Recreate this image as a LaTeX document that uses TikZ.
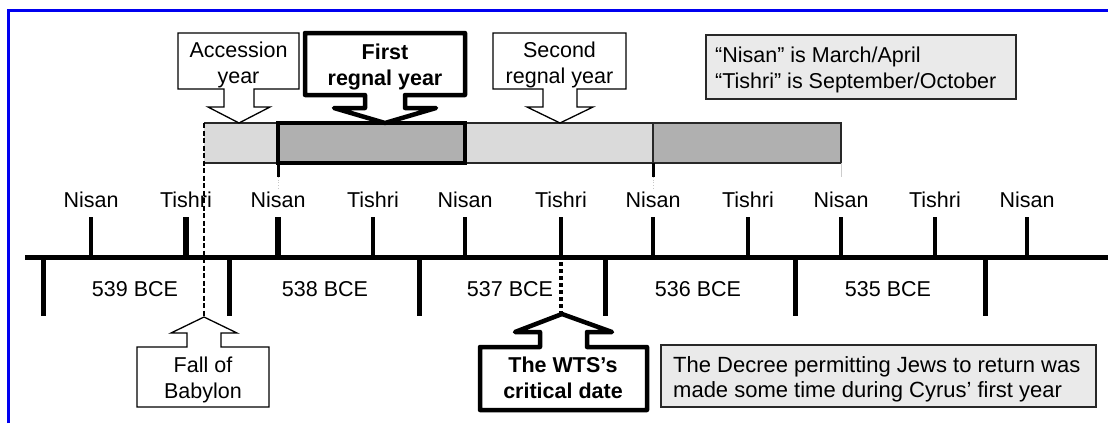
\documentclass[tikz,border=0pt]{standalone}
\usepackage{fontspec}
\setmainfont{Liberation Sans}
\definecolor{frameblue}{RGB}{0,0,240}
\definecolor{lightbar}{RGB}{218,218,218}
\definecolor{darkbar}{RGB}{176,176,176}
\definecolor{notefill}{RGB}{234,234,234}
\definecolor{edgegray}{RGB}{40,40,40}
\begin{document}
\begin{tikzpicture}[x=1pt,y=-1pt,
  txt/.style={font=\fontsize{21.5}{26}\selectfont, inner sep=0pt, align=center},
  boldtxt/.style={txt, font=\fontsize{21.5}{26}\selectfont\bfseries},
  bigtxt/.style={txt, font=\fontsize{22}{25}\selectfont},
  thincall/.style={draw=black, fill=white, line width=1.3pt, line join=miter},
  thickcall/.style={draw=black, fill=white, line width=4.5pt, line join=round},
  notebox/.style={draw=edgegray, fill=notefill, line width=1.4pt},
  uptick/.style={line width=4.5pt},
  yeartick/.style={line width=5pt},
  thinbar/.style={draw=edgegray, line width=1.3pt},
]
\useasboundingbox (0,0) rectangle (1108,423);
% frame
\draw[frameblue, line width=3pt] (8,423) -- (8,10) -- (1108,10);

% bar
\fill[lightbar] (204,123) rectangle (278,163);
\draw[thinbar] (204,123) -- (278,123) (204,163) -- (278,163);
\filldraw[fill=lightbar, thinbar] (465,123) rectangle (653,163);
\filldraw[fill=darkbar, thinbar] (653,123) rectangle (841,163);
\filldraw[fill=darkbar, draw=black, line width=4pt] (278,123) rectangle (465,163);

% short marks under the bar
\draw[line width=3pt] (278,163) -- (278,177);
\draw[line width=3pt] (653,163) -- (653,177);
\draw[gray!45, line width=0.7pt, dotted] (278,177) -- (278,190);
\draw[gray!45, line width=0.7pt, dotted] (653,177) -- (653,190);
\draw[gray!40, line width=0.8pt] (841,163) -- (841,177);

% main line
\draw[line width=5pt] (25,257) -- (1108,257);

% upper ticks and month labels
\foreach \x/\m/\w [count=\i] in {91/Nisan/4.5,186/Tishri/6,278/Nisan/6,373/Tishri/4.5,465/Nisan/4.5,561/Tishri/4.5,653/Nisan/4.5,748/Tishri/4.5,841/Nisan/4.5,935/Tishri/4.5,1027/Nisan/4.5}{
  \draw[line width=\w pt] (\x,217) -- (\x,257);
  \node[txt] (m\i) at (\x,200) {\m};
}
% year ticks
\foreach \x in {43,229,419,605,795,985}{
  \draw[yeartick] (\x,257) -- (\x,316);
}
\node[txt] (y539) at (135,289) {539 BCE};
\node[txt] (y538) at (325,289) {538 BCE};
\node[txt] (y537) at (510,289) {537 BCE};
\node[txt] (y536) at (698,289) {536 BCE};
\node[txt] (y535) at (888,289) {535 BCE};

% top callouts
\draw[thincall] (178,33) -- (299,33) -- (299,89) -- (254,89) -- (254,107) -- (270,107) -- (239,123) -- (208,107) -- (224,107) -- (224,89) -- (178,89) -- cycle;
\node[txt] (acc) at (238.5,65) {Accession\\year};

\draw[thickcall] (305,33) -- (465,33) -- (465,95) -- (405,95) -- (405,108) -- (436,108) -- (385,123) -- (334,108) -- (365,108) -- (365,95) -- (305,95) -- cycle;
\node[boldtxt] (first) at (385,67) {First\\regnal year};

\draw[thincall] (493,33) -- (626,33) -- (626,89) -- (577,89) -- (577,107) -- (593,107) -- (560,123) -- (527,107) -- (543,107) -- (543,89) -- (493,89) -- cycle;
\node[txt] (second) at (559.5,65) {Second\\regnal year};

% note box top
\draw[notebox] (706,35) rectangle (1016,99);
\node[txt, align=left, anchor=west] (note) at (715,70) {“Nisan” is March/April\\“Tishri” is September/October};

% dashed lines
\coordinate (fallTip) at (204,317);
\coordinate (barLeft) at (204,123);
\draw[line width=2pt, dash pattern=on 5pt off 2.5pt] (barLeft) -- (fallTip);
\coordinate (wtsTip) at (561,313);
\coordinate (wtsTop) at (561,262);
\draw[line width=4pt, dash pattern=on 4pt off 3pt] (wtsTop) -- (wtsTip);

% bottom callouts
\draw[thincall] (137,407) -- (269,407) -- (269,347) -- (221,347) -- (221,333) -- (237,333) -- (204,317) -- (171,333) -- (187,333) -- (187,347) -- (137,347) -- cycle;
\node[txt] (fall) at (203,380) {Fall of\\Babylon};

\draw[thickcall] (480,410) -- (647,410) -- (647,347) -- (587,347) -- (587,332) -- (612,332) -- (562,314) -- (515,332) -- (540,332) -- (540,347) -- (480,347) -- cycle;
\node[boldtxt] (wts) at (563,378) {The WTS’s\\critical date};

\draw[notebox] (661,345) rectangle (1096,407);
\node[bigtxt, align=left, anchor=west] (decree) at (673,379) {The Decree permitting Jews to return was\\made some time during Cyrus’ first year};
\end{tikzpicture}
\end{document}
